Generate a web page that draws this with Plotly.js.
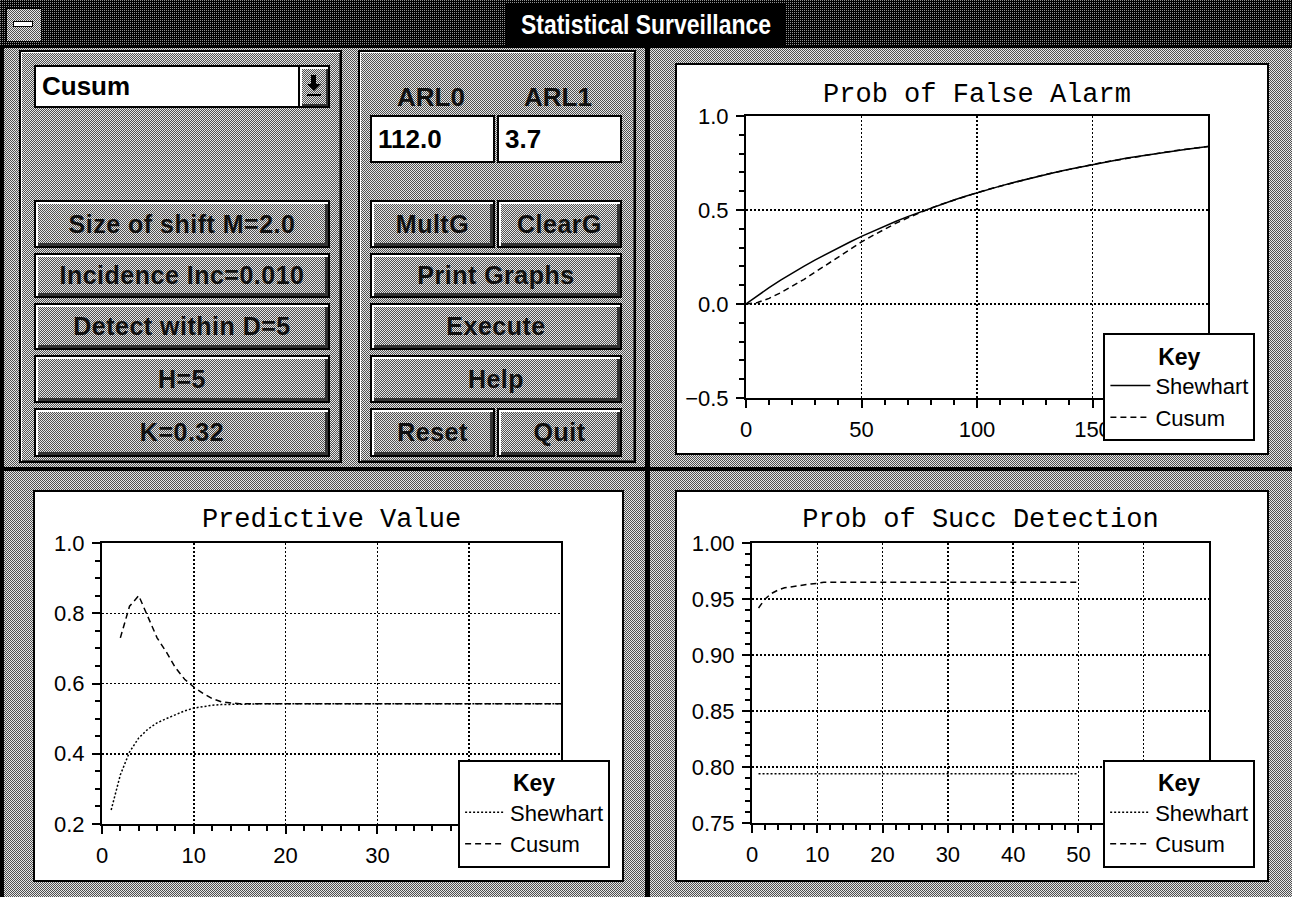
<!DOCTYPE html>
<html>
<head>
<meta charset="utf-8">
<script src="https://cdn.plot.ly/plotly-3.0.1.min.js"></script>
<style>
  html, body { margin:0; padding:0; }
  body { width:1292px; height:897px; position:relative; overflow:hidden;
         background-color:#e6e6e6;
         background-image:url("data:image/svg+xml,%3Csvg xmlns='http://www.w3.org/2000/svg' width='2' height='2'%3E%3Crect width='1' height='1' fill='%23505050'/%3E%3Crect x='1' y='1' width='1' height='1' fill='%23505050'/%3E%3C/svg%3E");
         font-family:"Liberation Sans", Arial, sans-serif; }
  .abs { position:absolute; box-sizing:border-box; }
  .dither { background-color:#e6e6e6;
         background-image:url("data:image/svg+xml,%3Csvg xmlns='http://www.w3.org/2000/svg' width='2' height='2'%3E%3Crect width='1' height='1' fill='%23505050'/%3E%3Crect x='1' y='1' width='1' height='1' fill='%23505050'/%3E%3C/svg%3E"); }
  .darkdither { background-color:#000;
         background-image:url("data:image/svg+xml,%3Csvg xmlns='http://www.w3.org/2000/svg' width='2' height='2'%3E%3Crect width='1' height='1' fill='%23909090'/%3E%3C/svg%3E"); }
  .panel { border:2px solid #000; box-shadow: inset 1px 1px 0 #fff, inset -1px -1px 0 #444; }
  .btn { border:2px solid #000; box-shadow: inset 2px 2px 0 #fff, inset -3px -3px 0 #333;
         display:flex; align-items:center; justify-content:center; white-space:nowrap;
         font-weight:bold; font-size:25px; letter-spacing:0.5px; color:#111; }
  .field { background:#fff; border:2px solid #000; font-weight:bold; font-size:26px;
         display:flex; align-items:center; padding-left:6px; color:#000; }
  .lbl { font-weight:bold; font-size:26px; color:#111; text-align:center; }
  .chartbox { background:#fff; border:2px solid #000; }
</style>
</head>
<body>
<!-- title bar -->
<div class="abs darkdither" style="left:0;top:0;width:1292px;height:48px;border-bottom:2px solid #000;"></div>
<div class="abs dither" style="left:6px;top:8px;width:36px;height:34px;border:1px solid #000;"></div>
<div class="abs" style="left:13px;top:21px;width:20px;height:6px;background:#fff;border:1px solid #000;"></div>
<div class="abs" style="left:506px;top:4px;width:280px;height:42px;background:#000;"></div>
<div class="abs" style="left:446px;top:4px;width:400px;height:42px;color:#fff;font-weight:bold;font-size:28px;white-space:nowrap;display:flex;align-items:center;justify-content:center;transform:scaleX(0.82);">Statistical Surveillance</div>
<!-- window left border -->
<div class="abs" style="left:0;top:48px;width:4px;height:849px;background:#000;"></div>

<!-- left control panel -->
<div class="abs dither panel" style="left:19px;top:50px;width:323px;height:413px;"></div>
<div class="abs field" style="left:34px;top:65px;width:266px;height:43px;">Cusum</div>
<div class="abs dither" style="left:298px;top:65px;width:32px;height:43px;border:2px solid #000;box-shadow: inset 2px 2px 0 #fff, inset -2px -2px 0 #333;"></div>
<div class="abs" style="left:311px;top:75px;width:5px;height:9px;background:#000;"></div>
<div class="abs" style="left:307px;top:84px;width:0;height:0;border-left:7px solid transparent;border-right:7px solid transparent;border-top:7px solid #000;"></div>
<div class="abs" style="left:307px;top:94px;width:14px;height:2px;background:#000;"></div>

<div class="abs dither btn" style="left:34px;top:200px;width:296px;height:48px;">Size of shift M=2.0</div>
<div class="abs dither btn" style="left:34px;top:253px;width:296px;height:45px;">Incidence Inc=0.010</div>
<div class="abs dither btn" style="left:34px;top:303px;width:296px;height:47px;">Detect within D=5</div>
<div class="abs dither btn" style="left:34px;top:355px;width:296px;height:48px;">H=5</div>
<div class="abs dither btn" style="left:34px;top:408px;width:296px;height:49px;">K=0.32</div>

<!-- middle control panel -->
<div class="abs dither panel" style="left:358px;top:50px;width:278px;height:413px;"></div>
<div class="abs lbl" style="left:381px;top:82px;width:100px;">ARL0</div>
<div class="abs lbl" style="left:508px;top:82px;width:100px;">ARL1</div>
<div class="abs field" style="left:370px;top:115px;width:125px;height:48px;">112.0</div>
<div class="abs field" style="left:497px;top:115px;width:125px;height:48px;">3.7</div>
<div class="abs dither btn" style="left:370px;top:200px;width:125px;height:48px;">MultG</div>
<div class="abs dither btn" style="left:497px;top:200px;width:125px;height:48px;">ClearG</div>
<div class="abs dither btn" style="left:370px;top:253px;width:252px;height:45px;">Print Graphs</div>
<div class="abs dither btn" style="left:370px;top:303px;width:252px;height:47px;">Execute</div>
<div class="abs dither btn" style="left:370px;top:355px;width:252px;height:48px;">Help</div>
<div class="abs dither btn" style="left:370px;top:408px;width:125px;height:49px;">Reset</div>
<div class="abs dither btn" style="left:497px;top:408px;width:125px;height:49px;">Quit</div>

<!-- dividers -->
<div class="abs" style="left:645px;top:48px;width:5px;height:849px;background:#000;"></div>
<div class="abs" style="left:4px;top:467px;width:1288px;height:4px;background:#000;"></div>

<!-- chart boxes -->
<div class="abs chartbox" style="left:675px;top:63px;width:594px;height:392px;"><div id="faChart" style="width:590px;height:388px;"></div></div>
<div class="abs chartbox" style="left:33px;top:490px;width:591px;height:392px;"><div id="pvChart" style="width:587px;height:388px;"></div></div>
<div class="abs chartbox" style="left:675px;top:490px;width:594px;height:392px;"><div id="sdChart" style="width:590px;height:388px;"></div></div>

<script>
// ---------------- data ----------------
const seriesNames = ["Shewhart", "Cusum"];

// Prob of False Alarm
const faX = [0,5,10,15,20,25,30,35,40,45,50,55,60,65,70,75,80,85,90,95,100,105,110,115,120,125,130,135,140,145,150,155,160,165,170,175,180,185,190,195,200];
const faShewhart = [0,0.045,0.087,0.127,0.165,0.2,0.235,0.268,0.3,0.33,0.36,0.388,0.414,0.44,0.465,0.488,0.51,0.532,0.553,0.573,0.592,0.61,0.627,0.644,0.66,0.675,0.69,0.704,0.717,0.73,0.742,0.754,0.765,0.776,0.786,0.796,0.805,0.814,0.822,0.83,0.838];
const faCusum    = [0,0.008,0.03,0.06,0.095,0.13,0.17,0.21,0.25,0.29,0.33,0.365,0.398,0.43,0.458,0.485,0.51,0.532,0.553,0.573,0.592,0.61,0.627,0.644,0.66,0.675,0.69,0.704,0.717,0.73,0.742,0.754,0.765,0.776,0.786,0.796,0.805,0.814,0.822,0.83,0.838];
const faTickVals = [0,50,100,150,200];
const faTickText = ["0","50","100","150",""];

// Predictive Value
const pvX = [1,2,3,4,5,6,7,8,9,10,11,12,13,14,15,16,17,18,19,20,21,22,23,24,25,26,27,28,29,30,31,32,33,34,35,36,37,38,39,40,41,42,43,44,45,46,47,48,49,50];
const pvShewhart = [0.24,0.34,0.405,0.445,0.47,0.488,0.5,0.512,0.522,0.53,0.535,0.538,0.54,0.541,0.542,0.542,0.542,0.542,0.542,0.542,0.542,0.542,0.542,0.542,0.542,0.542,0.542,0.542,0.542,0.542,0.542,0.542,0.542,0.542,0.542,0.542,0.542,0.542,0.542,0.542,0.542,0.542,0.542,0.542,0.542,0.542,0.542,0.542,0.542,0.542];
const pvCusumX = [2,3,4,5,6,7,8,9,10,11,12,13,14,15,16,17,18,19,20,21,22,23,24,25,26,27,28,29,30,31,32,33,34,35,36,37,38,39,40,41,42,43,44,45,46,47,48,49,50];
const pvCusum = [0.73,0.82,0.85,0.79,0.73,0.69,0.645,0.612,0.59,0.572,0.557,0.548,0.544,0.542,0.542,0.542,0.542,0.542,0.542,0.542,0.542,0.542,0.542,0.542,0.542,0.542,0.542,0.542,0.542,0.542,0.542,0.542,0.542,0.542,0.542,0.542,0.542,0.542,0.542,0.542,0.542,0.542,0.542,0.542,0.542,0.542,0.542,0.542,0.542];
const pvTickVals = [0,10,20,30,40,50];
const pvTickText = ["0","10","20","30","",""];

// Prob of Succ Detection
const sdX = [1,2,3,4,5,6,7,8,9,10,11,12,13,14,15,16,17,18,19,20,21,22,23,24,25,26,27,28,29,30,31,32,33,34,35,36,37,38,39,40,41,42,43,44,45,46,47,48,49,50];
const sdShewhart = [0.794,0.794,0.794,0.794,0.794,0.794,0.794,0.794,0.794,0.794,0.794,0.794,0.794,0.794,0.794,0.794,0.794,0.794,0.794,0.794,0.794,0.794,0.794,0.794,0.794,0.794,0.794,0.794,0.794,0.794,0.794,0.794,0.794,0.794,0.794,0.794,0.794,0.794,0.794,0.794,0.794,0.794,0.794,0.794,0.794,0.794,0.794,0.794,0.794,0.794];
const sdCusum = [0.942,0.95,0.955,0.958,0.96,0.961,0.962,0.963,0.9635,0.964,0.965,0.965,0.965,0.965,0.965,0.965,0.965,0.965,0.965,0.965,0.965,0.965,0.965,0.965,0.965,0.965,0.965,0.965,0.965,0.965,0.965,0.965,0.965,0.965,0.965,0.965,0.965,0.965,0.965,0.965,0.965,0.965,0.965,0.965,0.965,0.965,0.965,0.965,0.965,0.965];
const sdTickVals = [0,10,20,30,40,50,60,70];
const sdTickText = ["0","10","20","30","40","50","",""];

const chartTitles = ["Prob of False Alarm", "Predictive Value", "Prob of Succ Detection"];
const legendTitle = "Key";

// ---------------- styling ----------------
const SANS = "'Liberation Sans', Arial, sans-serif";
const MONO = "'Liberation Mono', 'Courier New', monospace";

function xAxis(range, tickvals, ticktext, minorDtick) {
  const a = commonAxis(minorDtick, range);
  a.tickmode = 'array'; a.tickvals = tickvals; a.ticktext = ticktext;
  return a;
}
function yAxis(range, dtick, minorDtick, fmt) {
  const a = commonAxis(minorDtick, range);
  a.dtick = dtick; a.tick0 = range[0]; a.tickformat = fmt;
  return a;
}
function commonAxis(minorDtick, range) {
  return {
    range: range,
    showline: true, linecolor: '#000', linewidth: 2, mirror: true,
    ticks: 'outside', ticklen: 8, tickwidth: 2, tickcolor: '#000',
    showgrid: true, gridcolor: '#000', gridwidth: 1.5, griddash: '2px,2px',
    zeroline: false, fixedrange: true, ticklabelstandoff: 3,
    tickfont: { family: SANS, size: 22, color: '#000' },
    minor: { dtick: minorDtick, tick0: range[0], ticks: 'outside', ticklen: 5, tickwidth: 2, tickcolor: '#000', showgrid: false }
  };
}

function baseLayout(title, titleY, m, legX, legY, xa, ya) {
  return {
    width: m.w, height: m.h,
    margin: { l: m.l, r: m.r, t: m.t, b: m.b, pad: 0 },
    paper_bgcolor: '#fff', plot_bgcolor: '#fff',
    title: { text: title, x: 0.5, xref: 'paper', xanchor: 'center', y: titleY, yref: 'container', yanchor: 'middle',
             font: { family: MONO, size: 27, color: '#000' } },
    xaxis: xa, yaxis: ya,
    showlegend: true,
    legend: {
      x: legX, y: legY, xanchor: 'right', yanchor: 'bottom', xref: 'paper', yref: 'paper',
      bgcolor: '#fff', bordercolor: '#000', borderwidth: 2,
      font: { family: SANS, size: 22, color: '#000' },
      title: { text: '<b>' + legendTitle + '</b>', side: 'top center', font: { family: SANS, size: 23, color: '#000' } },
      itemwidth: 40, tracegroupgap: 0, traceorder: 'normal'
    }
  };
}

const cfg = { staticPlot: true, displayModeBar: false };

Plotly.newPlot('faChart', [
  { x: faX, y: faShewhart, name: seriesNames[0], mode: 'lines', line: { color: '#000', width: 1.5 } },
  { x: faX, y: faCusum, name: seriesNames[1], mode: 'lines', line: { color: '#000', width: 1.5, dash: '6px,4px' } }
], baseLayout(chartTitles[0], 0.930, { w: 590, h: 388, l: 69, r: 53, t: 51, b: 48 }, 1.1026, -0.152,
   xAxis([0, 200], faTickVals, faTickText, 10), yAxis([-0.5, 1.0], 0.5, 0.1, '.1f')), cfg);

Plotly.newPlot('pvChart', [
  { x: pvX, y: pvShewhart, name: seriesNames[0], mode: 'lines', line: { color: '#000', width: 1.5, dash: '2px,2px' } },
  { x: pvCusumX, y: pvCusum, name: seriesNames[1], mode: 'lines', line: { color: '#000', width: 1.5, dash: '6px,4px' } }
], baseLayout(chartTitles[1], 0.934, { w: 587, h: 388, l: 67, r: 53, t: 51, b: 47 }, 1.107, -0.155,
   xAxis([0, 50], pvTickVals, pvTickText, 2), yAxis([0.2, 1.0], 0.2, 0.05, '.1f')), cfg);

Plotly.newPlot('sdChart', [
  { x: sdX, y: sdShewhart, name: seriesNames[0], mode: 'lines', line: { color: '#000', width: 1.5, dash: '2px,2px' } },
  { x: sdX, y: sdCusum, name: seriesNames[1], mode: 'lines', line: { color: '#000', width: 1.5, dash: '6px,4px' } }
], baseLayout(chartTitles[2], 0.934, { w: 590, h: 388, l: 75, r: 51, t: 51, b: 47 }, 1.101, -0.159,
   xAxis([0, 70], sdTickVals, sdTickText, 2), yAxis([0.75, 1.0], 0.05, 0.01, '.2f')), cfg);
</script>
</body>
</html>
